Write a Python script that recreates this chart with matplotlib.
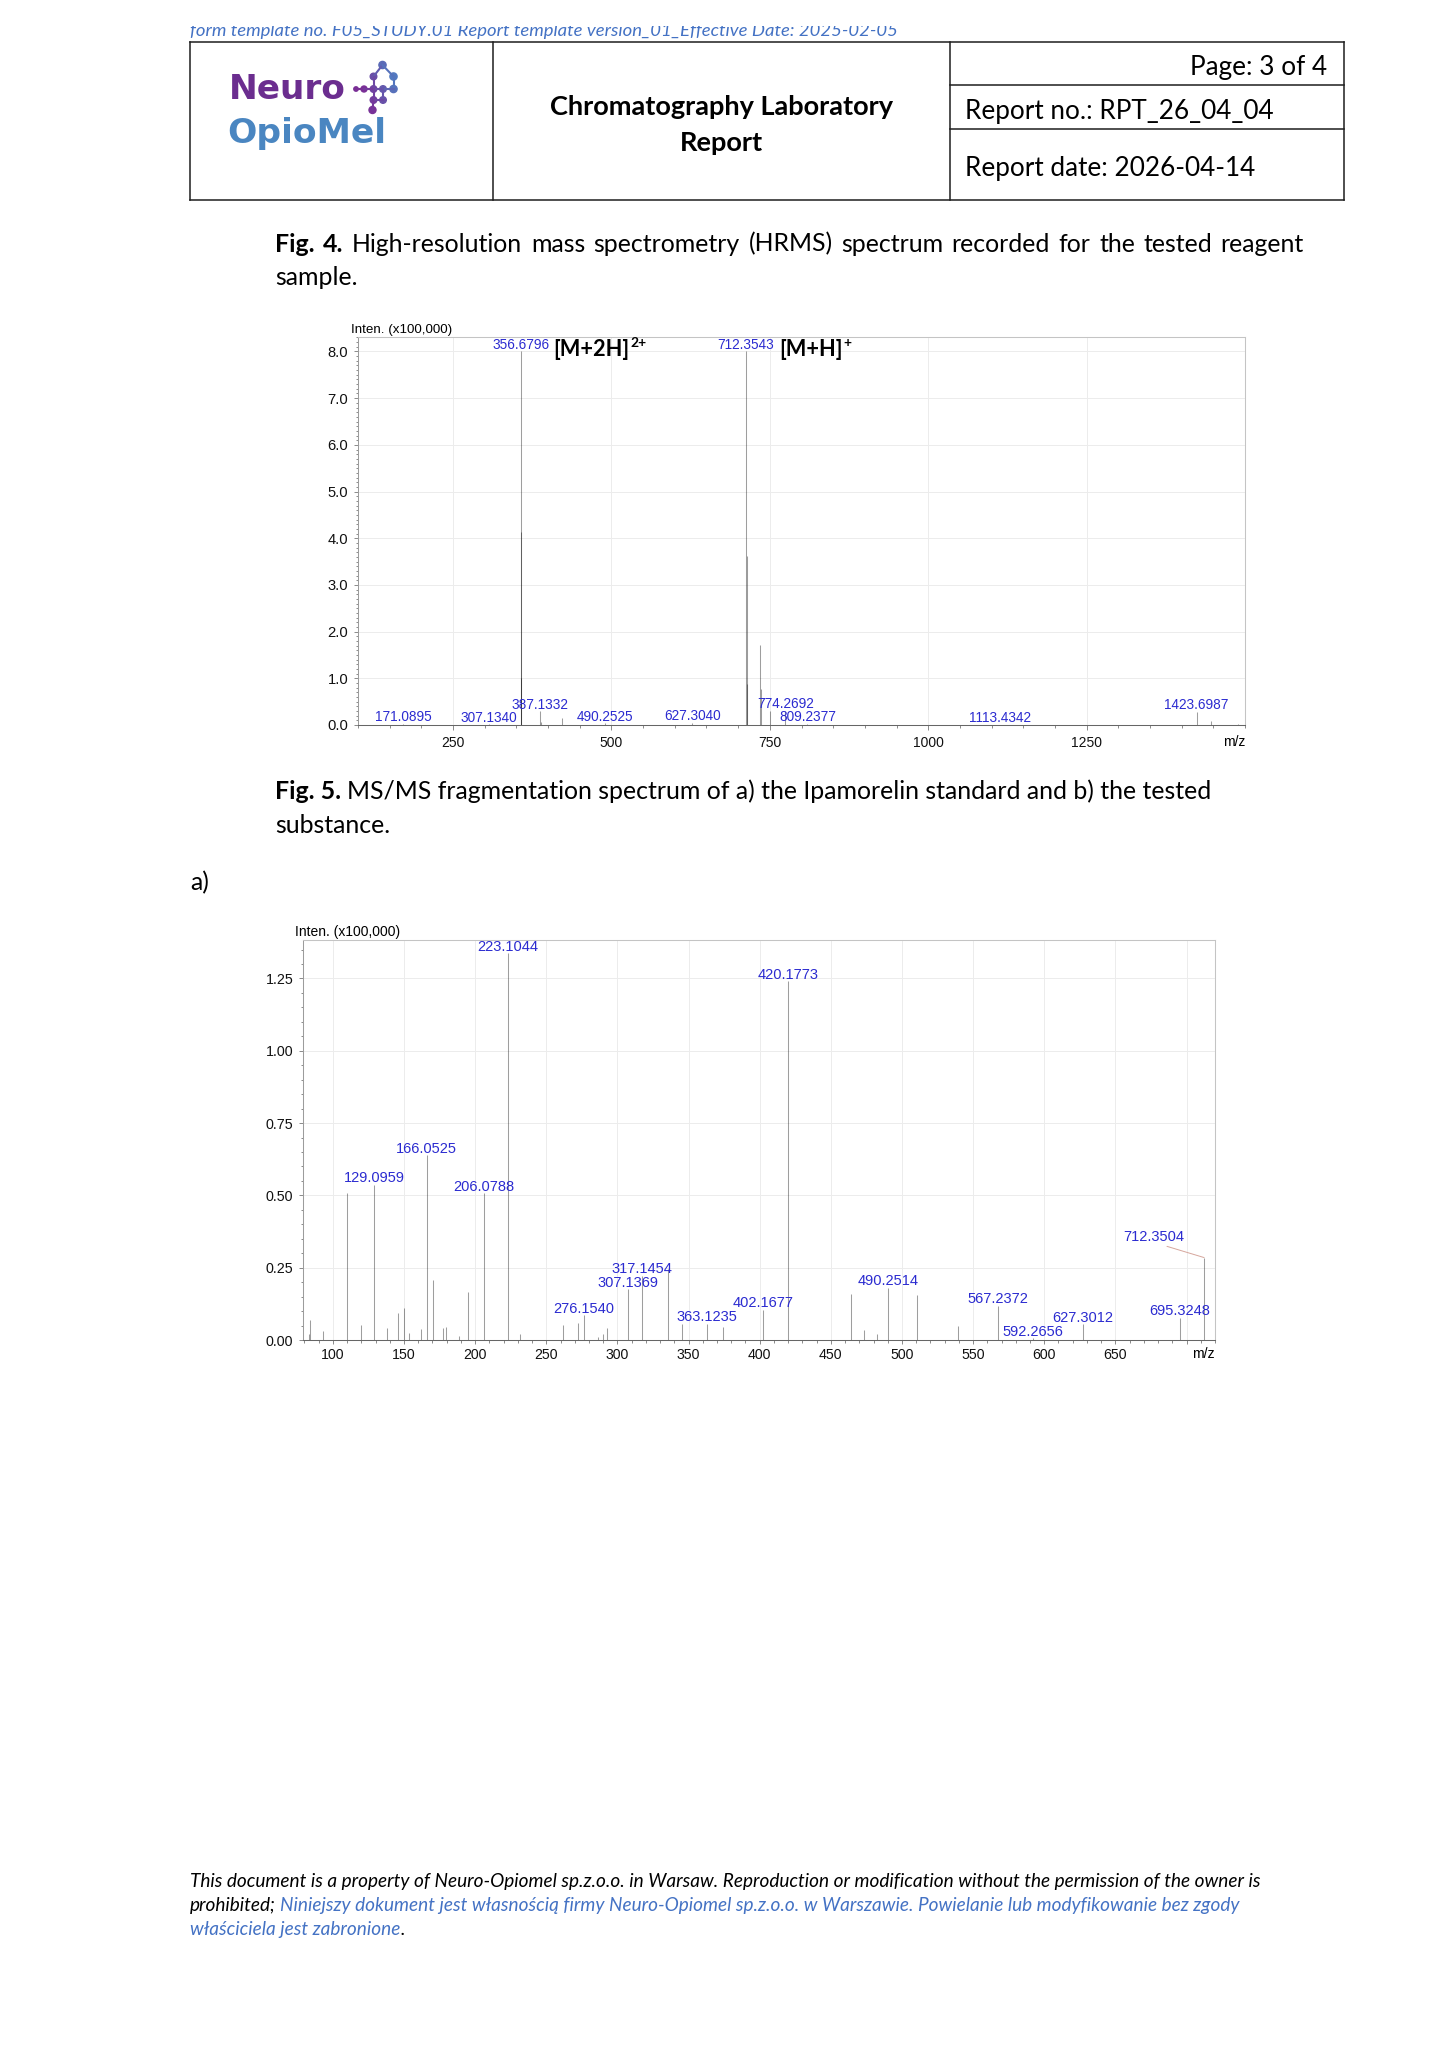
import matplotlib
matplotlib.use('Agg')
import matplotlib.pyplot as plt
from matplotlib.ticker import MultipleLocator, FixedLocator, FuncFormatter, FormatStrFormatter
from matplotlib.patches import Rectangle, Circle
from matplotlib.lines import Line2D
import numpy as np

# ---------------- data ----------------
# Fig. 4 : HRMS spectrum, intensity in units of 100,000
hrms_mz = [171.0895, 307.1340, 356.6796, 357.1810, 357.6825, 387.1332, 388.1360,
           421.20, 490.2525, 627.3040, 712.3543, 713.3575, 714.3600, 734.3360,
           735.3390, 750.3100, 774.2692, 809.2377, 1113.4342, 1423.6987,
           1445.6800, 1489.70]
hrms_int = [0.03, 0.02, 8.00, 4.14, 1.00, 0.29, 0.06,
            0.14, 0.04, 0.05, 8.00, 3.62, 0.87, 1.71,
            0.78, 0.30, 0.30, 0.03, 0.01, 0.28,
            0.09, 0.03]
hrms_labeled = [171.0895, 307.1340, 356.6796, 387.1332, 490.2525, 627.3040,
                712.3543, 774.2692, 809.2377, 1113.4342, 1423.6987]
hrms_ions = [(356.6796, '[M+2H]', '2+'), (712.3543, '[M+H]', '+')]

# Fig. 5a : MS/MS spectrum of the Ipamorelin standard, intensity in units of 100,000
msms_mz = [83.05, 84.08, 93.20, 110.07, 120.08, 129.0959, 137.90, 146.00, 150.10,
           153.30, 162.10, 166.0525, 170.10, 177.60, 179.70, 188.80, 195.10,
           206.0788, 223.1044, 231.50, 261.80, 272.00, 276.1540, 286.60, 289.80,
           293.00, 307.1369, 317.1454, 335.20, 345.20, 363.1235, 374.50, 402.1677,
           420.1773, 464.30, 473.40, 482.40, 490.2514, 510.50, 539.30, 567.2372,
           592.2656, 627.3012, 695.3248, 712.3504]
msms_int = [0.020, 0.069, 0.031, 0.508, 0.051, 0.537, 0.040, 0.093, 0.110,
            0.025, 0.037, 0.638, 0.207, 0.040, 0.046, 0.014, 0.167,
            0.507, 1.337, 0.020, 0.052, 0.060, 0.085, 0.012, 0.020,
            0.040, 0.176, 0.222, 0.245, 0.054, 0.057, 0.045, 0.104,
            1.241, 0.158, 0.034, 0.020, 0.181, 0.155, 0.050, 0.118,
            0.006, 0.054, 0.077, 0.285]
msms_labeled = [129.0959, 166.0525, 206.0788, 223.1044, 276.1540, 307.1369, 317.1454,
                363.1235, 402.1677, 420.1773, 490.2514, 567.2372, 592.2656, 627.3012,
                695.3248, 712.3504]
# labels moved aside (pixel offset of label centre from the peak top)
msms_label_shift = {712.3504: (-50, 21)}

hrms_xticks = [250, 500, 750, 1000, 1250]
msms_xticks = list(range(100, 701, 50))

# ---------------- page ----------------
plt.rcParams['font.family'] = ['Liberation Sans', 'DejaVu Sans']
W, H = 1447, 2048
fig = plt.figure(figsize=(W / 100, H / 100), dpi=100)
fig.patch.set_facecolor('white')
R = fig.canvas.get_renderer()
PAGE = ['Lato', 'DejaVu Sans']
BLUE_DOC = '#4472c4'
DY = 3  # small vertical correction of page text

pg = fig.add_axes([0, 0, 1, 1])
pg.set_xlim(0, W)
pg.set_ylim(H, 0)
pg.axis('off')
pg.patch.set_alpha(0)


def ptxt(x, y, s, size=16, **kw):
    kw.setdefault('va', 'baseline')
    kw.setdefault('family', PAGE)
    return fig.text(x / W, 1 - (y + DY) / H, s, fontsize=size, **kw)


def wpx(t):
    return t.get_window_extent(renderer=R).width


def fit(t, target):
    for _ in range(2):
        t.set_fontsize(t.get_fontsize() * target / wpx(t))
    return t


def space_px(size, **kw):
    a = ptxt(0, 0, 'x x', size, **kw)
    b = ptxt(0, 0, 'xx', size, **kw)
    d = wpx(a) - wpx(b)
    a.remove()
    b.remove()
    return d


def run(x, y, pieces, size):
    for s, kw, sp in pieces:
        t = ptxt(x, y, s, size, **kw)
        x += wpx(t)
        if sp:
            x += space_px(size, **kw)
    return x


def justify(x0, x1, y, words, size):
    ts = [ptxt(0, y, s, size, **kw) for s, kw in words]
    ws = [wpx(t) for t in ts]
    gap = (x1 - x0 - sum(ws)) / (len(ts) - 1)
    x = x0
    for t, w in zip(ts, ws):
        t.set_x(x / W)
        x += w + gap


def seg(x0, y0, x1, y1, **kw):
    kw.setdefault('color', '#1e1e1e')
    kw.setdefault('lw', 1.1)
    pg.add_line(Line2D([x0, x1], [y0, y1], **kw))


# template line (cut at the top of the page)
t = ptxt(190, 33, 'form template no. F05_STUDY.01 Report template version_01_Effective Date: 2025-02-05',
         16, style='italic', color=BLUE_DOC)
fit(t, 704)
fig.add_artist(Rectangle((0, 1 - 26 / H), 1, 26 / H, transform=fig.transFigure,
                         facecolor='white', edgecolor='none', zorder=50))

# header table
TL, TR, TT, TB = 190, 1344, 42, 199.5
seg(TL, TT, TR, TT)
seg(TL, TB, TR, TB)
seg(TL, TT, TL, TB)
seg(TR, TT, TR, TB)
seg(493, TT, 493, TB)
seg(950, TT, 950, TB)
seg(950, 85, TR, 85)
seg(950, 128.5, TR, 128.5)

t = ptxt(965, 173, 'Report date: 2026-04-14', 20)
fit(t, 289)
hs = t.get_fontsize()
ptxt(1327, 72.5, 'Page: 3 of 4', hs, ha='right')
ptxt(965, 116, 'Report no.: RPT_26_04_04', hs)
t = ptxt(721.5, 112, 'Chromatography Laboratory', 18, ha='center', weight='bold')
fit(t, 343)
ptxt(721.5, 148, 'Report', t.get_fontsize(), ha='center', weight='bold')

# logo
t = ptxt(229, 96, 'Neuro', 24, family=['DejaVu Sans'], weight='bold', color='#6b2d8f')
fit(t, 117)
t = ptxt(227, 140, 'OpioMel', 24, family=['DejaVu Sans'], weight='bold', color='#4a86c1')
fit(t, 159)
nodes = {'T': (382.5, 65, 3.6), 'A': (373.5, 76.5, 3.3), 'Q': (393.5, 76.5, 3.6),
         'M0': (356.0, 89, 2.2), 'M1': (364.0, 89, 3.0), 'M2': (373.5, 89, 3.3),
         'M3': (383.0, 89, 3.3), 'M4': (393.5, 89, 3.6),
         'C1': (373.5, 100, 3.3), 'C2': (383.0, 100, 3.3), 'B': (372.5, 110, 3.5)}
links = [('T', 'A'), ('T', 'Q'), ('A', 'M2'), ('Q', 'M4'), ('M0', 'M1'), ('M1', 'M2'),
         ('M2', 'M3'), ('M3', 'M4'), ('M3', 'C2'), ('M2', 'C1'), ('C1', 'C2'), ('C1', 'B')]
c_purple = np.array([0x7a, 0x2f, 0x96]) / 255
c_blue = np.array([0x4a, 0x88, 0xc8]) / 255


def grad(x, y):
    f = np.clip((x - 356) / 40 + (65 - y) / 120, 0, 1)
    return tuple(c_purple * (1 - f) + c_blue * f)


for a, b in links:
    xa, ya, _ = nodes[a]
    xb, yb, _ = nodes[b]
    pg.add_line(Line2D([xa, xb], [ya, yb], color=grad((xa + xb) / 2, (ya + yb) / 2), lw=1.5))
for x, y, r in nodes.values():
    pg.add_patch(Circle((x, y), r, color=grad(x, y)))

# captions
probe_b = ptxt(0, 0, 'Fig. 5.', 20, weight='bold')
probe_r = ptxt(0, 0, 'MS/MS fragmentation spectrum of a) the Ipamorelin standard and b) the tested', 20)
tot = wpx(probe_b) + wpx(probe_r) + space_px(20)
probe_b.remove()
probe_r.remove()
bs = 20 * 939 / tot

words4 = [('Fig.', dict(weight='bold')), ('4.', dict(weight='bold'))] + \
    [(w, {}) for w in 'High-resolution mass spectrometry (HRMS) spectrum recorded for the tested reagent'.split()]
justify(275, 1304, 248.5, words4, bs)
ptxt(275, 282, 'sample.', bs)

run(275, 796, [('Fig. 5.', dict(weight='bold'), True),
               ('MS/MS fragmentation spectrum of a) the Ipamorelin standard and b) the tested', {}, False)], bs)
ptxt(275, 830, 'substance.', bs)
ptxt(190, 887, 'a)', bs)

# footer
t = ptxt(190, 1884, 'This document is a property of Neuro-Opiomel sp.z.o.o. in Warsaw. Reproduction or '
         'modification without the permission of the owner is', 15, style='italic', color='black')
fit(t, 1065)
fs = t.get_fontsize()
run(190, 1908, [('prohibited;', dict(style='italic', color='black'), True),
                ('Niniejszy dokument jest własnością firmy Neuro-Opiomel sp.z.o.o. w Warszawie. '
                 'Powielanie lub modyfikowanie bez zgody', dict(style='italic', color=BLUE_DOC), False)], fs)
run(190, 1932, [('właściciela jest zabronione', dict(style='italic', color=BLUE_DOC), False),
                ('.', dict(style='italic', color='black'), False)], fs)

# ---------------- charts ----------------
LBL = '#2b2bd0'


def axes_px(l, t, r, b):
    return fig.add_axes([l / W, 1 - b / H, (r - l) / W, (b - t) / H])


def style(ax):
    ax.set_axisbelow(True)
    ax.grid(True, which='major', color='#ececec', lw=0.7)
    for s in ['top', 'right']:
        ax.spines[s].set_color('#c4c4c4')
    ax.spines['left'].set_color('#9c9c9c')
    ax.spines['bottom'].set_color('#666666')
    for s in ax.spines.values():
        s.set_linewidth(0.75)
    ax.tick_params(which='both', direction='out', color='#8a8a8a', width=0.7, labelcolor='#111111')


# Fig. 4
ax1 = axes_px(358, 337, 1245, 725)
ax1.vlines(hrms_mz, 0, hrms_int, colors='k', alpha=0.38, lw=0.75)
ax1.set_xlim(100, 1500)
ax1.set_ylim(0, 8.31)
ax1.xaxis.set_major_locator(FixedLocator(hrms_xticks))
ax1.xaxis.set_major_formatter(FuncFormatter(lambda v, p: f'{v:.0f}'))
ax1.xaxis.set_minor_locator(MultipleLocator(50))
ax1.yaxis.set_major_locator(MultipleLocator(1.0))
ax1.yaxis.set_minor_locator(MultipleLocator(0.1))
ax1.yaxis.set_major_formatter(FormatStrFormatter('%.1f'))
style(ax1)
ax1.tick_params(axis='y', which='major', length=2.9, pad=4, labelsize=10.6)
ax1.tick_params(axis='y', which='minor', length=1.8)
ax1.tick_params(axis='x', which='major', length=3.4, pad=4.6, labelsize=10)
ax1.tick_params(axis='x', which='minor', length=2.2)

hrms_lookup = dict(zip(hrms_mz, hrms_int))
for mz in hrms_labeled:
    ax1.annotate(f'{mz:.4f}', xy=(mz, hrms_lookup[mz]), xytext=(0, 2.5), textcoords='offset pixels',
                 ha='center', va='baseline', fontsize=9.8, color=LBL)
ion_size = None
for mz, main, sup in hrms_ions:
    t = ax1.annotate(main, xy=(mz, hrms_lookup[mz]), xytext=(33, -5), textcoords='offset pixels',
                     ha='left', va='baseline', fontsize=17, weight='bold', family=PAGE, color='black')
    if ion_size is None:
        fit(t, 76)
        ion_size = t.get_fontsize()
    t.set_fontsize(ion_size)
    ax1.annotate(sup, xy=(mz, hrms_lookup[mz]), xytext=(33 + wpx(t) + 1, 4.5), textcoords='offset pixels',
                 ha='left', va='baseline', fontsize=ion_size * 0.64, weight='bold', family=PAGE,
                 color='black')

fig.text(351 / W, 1 - 333 / H, 'Inten. (x100,000)', fontsize=9.6, va='baseline', ha='left')
fig.text(1245 / W, 1 - 746 / H, 'm/z', fontsize=10, va='baseline', ha='right')

# Fig. 5a
ax2 = axes_px(303, 940, 1215, 1340)
ax2.vlines(msms_mz, 0, msms_int, colors='k', alpha=0.38, lw=0.75)
ax2.set_xlim(79, 720)
ax2.set_ylim(0, 1.383)
ax2.xaxis.set_major_locator(FixedLocator(msms_xticks))
ax2.xaxis.set_major_formatter(FuncFormatter(lambda v, p: '' if v >= 700 else f'{v:.0f}'))
ax2.xaxis.set_minor_locator(MultipleLocator(10))
ax2.yaxis.set_major_locator(MultipleLocator(0.25))
ax2.yaxis.set_minor_locator(MultipleLocator(0.05))
ax2.yaxis.set_major_formatter(FormatStrFormatter('%.2f'))
style(ax2)
ax2.tick_params(axis='y', which='major', length=2.9, pad=4, labelsize=10.3)
ax2.tick_params(axis='y', which='minor', length=1.8)
ax2.tick_params(axis='x', which='major', length=2.6, pad=3.4, labelsize=10.2)
ax2.tick_params(axis='x', which='minor', length=2.0)

msms_lookup = dict(zip(msms_mz, msms_int))
for mz in msms_labeled:
    if mz in msms_label_shift:
        dx, dy = msms_label_shift[mz]
        ax2.annotate(f'{mz:.4f}', xy=(mz, msms_lookup[mz]), xytext=(dx, dy), textcoords='offset pixels',
                     ha='center', va='center', fontsize=10.5, color=LBL,
                     arrowprops=dict(arrowstyle='-', color='#d6a69c', lw=0.7, shrinkA=0, shrinkB=0,
                                     relpos=(0.56, 0.0)))
    else:
        ax2.annotate(f'{mz:.4f}', xy=(mz, msms_lookup[mz]), xytext=(0, 2.5), textcoords='offset pixels',
                     ha='center', va='baseline', fontsize=10.5, color=LBL)

fig.text(295 / W, 1 - 936 / H, 'Inten. (x100,000)', fontsize=10, va='baseline', ha='left')
fig.text(1215 / W, 1 - 1358 / H, 'm/z', fontsize=10.2, va='baseline', ha='right')

fig.savefig('out.png', dpi=100, facecolor='white')
